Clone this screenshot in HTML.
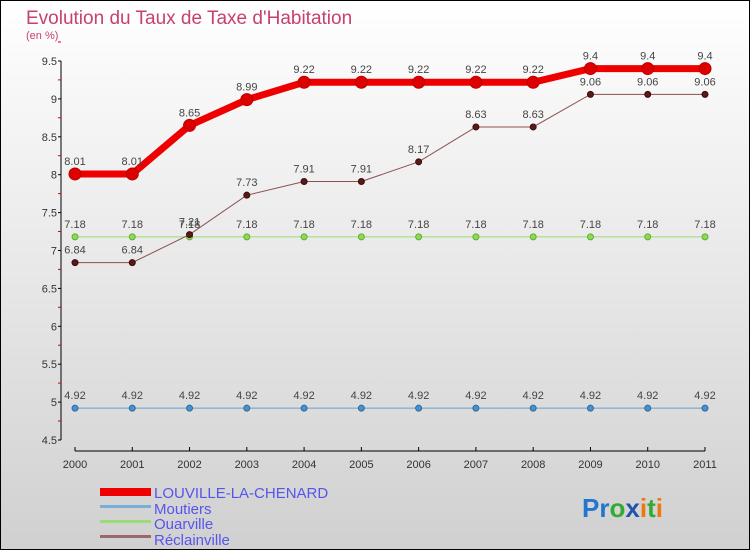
<!DOCTYPE html>
<html><head><meta charset="utf-8"><style>
body{margin:0;width:750px;height:550px;overflow:hidden;font-family:"Liberation Sans",sans-serif}
</style></head><body>
<svg width="750" height="550" xmlns="http://www.w3.org/2000/svg">
<defs><linearGradient id="bg" x1="0" y1="0" x2="0" y2="1"><stop offset="0" stop-color="#ffffff"/><stop offset="1" stop-color="#d0d0d0"/></linearGradient></defs>
<rect x="0.5" y="0.5" width="749" height="549" fill="url(#bg)" stroke="#000"/>
<text x="26" y="24" font-size="19" fill="#c8406e">Evolution du Taux de Taxe d'Habitation</text>
<text x="26" y="39" font-size="11" fill="#c8406e">(en %)</text>
<g id="axes"></g>
<g id="series"></g>
<g>
<rect x="100" y="488" width="51" height="8" fill="#e00"/>
<text x="154" y="498" font-size="15" fill="#5555ee">LOUVILLE-LA-CHENARD</text>
<rect x="100" y="505" width="51" height="3" fill="#7aaed6"/>
<text x="154" y="514" font-size="15" fill="#5555ee">Moutiers</text>
<rect x="100" y="520" width="51" height="3" fill="#99dd77"/>
<text x="154" y="529" font-size="15" fill="#5555ee">Ouarville</text>
<rect x="100" y="535" width="51" height="3" fill="#9a6a6a"/>
<text x="154" y="545" font-size="15" fill="#5555ee">Réclainville</text>
</g>
<text x="582" y="517" font-size="26" font-weight="bold"><tspan fill="#2277cc">Pr</tspan><tspan fill="#33aa33">o</tspan><tspan fill="#2255aa">x</tspan><tspan fill="#ee7711">i</tspan><tspan fill="#33aa33">t</tspan><tspan fill="#ee7711">i</tspan></text>
</svg>
<script>
const years=[2000,2001,2002,2003,2004,2005,2006,2007,2008,2009,2010,2011];
const yTicks=[4.5,5,5.5,6,6.5,7,7.5,8,8.5,9,9.5];
const louville=[8.01,8.01,8.65,8.99,9.22,9.22,9.22,9.22,9.22,9.4,9.4,9.4];
const moutiers=[4.92,4.92,4.92,4.92,4.92,4.92,4.92,4.92,4.92,4.92,4.92,4.92];
const ouarville=[7.18,7.18,7.18,7.18,7.18,7.18,7.18,7.18,7.18,7.18,7.18,7.18];
const reclainville=[6.84,6.84,7.21,7.73,7.91,7.91,8.17,8.63,8.63,9.06,9.06,9.06];
const NS="http://www.w3.org/2000/svg";
const xs=i=>75+i*(630/11);
const ys=v=>440-(v-4.5)*(379/5);
function mk(t,a,p){const e=document.createElementNS(NS,t);for(const k in a)e.setAttribute(k,a[k]);p.appendChild(e);return e;}
const ax=document.getElementById('axes');
let l=mk('line',{x1:61,y1:61,x2:61,y2:440,stroke:'#000'},ax);


yTicks.forEach(v=>{
 const y=ys(v);
 const tk=mk('line',{x1:58,y1:y,x2:61,y2:y,stroke:'#000'},ax);
 
 
 const m=mk('line',{x1:58,y1:y-19,x2:61,y2:y-19,stroke:'#d00'},ax);
 
 
 const t=mk('text',{x:57,y:y+4,'text-anchor':'end','font-size':11,fill:'#333'},ax);
 t.textContent=v;
 
 
});
l=mk('line',{x1:75,y1:451,x2:705,y2:451,stroke:'#000'},ax);


years.forEach((yr,i)=>{
 const x=xs(i);
 const tk=mk('line',{x1:x,y1:447,x2:x,y2:451,stroke:'#000'},ax);
 
 
 const t=mk('text',{x:x,y:468,'text-anchor':'middle','font-size':11,fill:'#333'},ax);
 t.textContent=yr;
 
 
});
const sg=document.getElementById('series');
function series(d,name,color,w,r,dot,stroke){
 const g=mk('g',{},sg);
 
 
 const p=mk('polyline',{points:d.map((v,i)=>xs(i)+','+ys(v)).join(' '),fill:'none',stroke:color,'stroke-width':w},g);
 
 
 d.forEach((v,i)=>{
  const c=mk('circle',{cx:xs(i),cy:ys(v),r:r,fill:dot,stroke:stroke,'stroke-width':1},g);
  
  
  const t=mk('text',{x:xs(i),y:ys(v)-9,'text-anchor':'middle','font-size':11,fill:'#444'},g);
  t.textContent=v;
  
  
 });
}
series(moutiers,'moutiers','#6aa0d0',1,3,'#4a90d0','#2a6aa0');
series(ouarville,'ouarville','#99dd77',1,3,'#88dd55','#66aa33');
series(reclainville,'reclainville','#8a5050',1,3,'#5a1a1a','#3a0a0a');
series(louville,'louville','#ee0000',7,6,'#dd0000','#bb0000');
</script>
</body></html>
